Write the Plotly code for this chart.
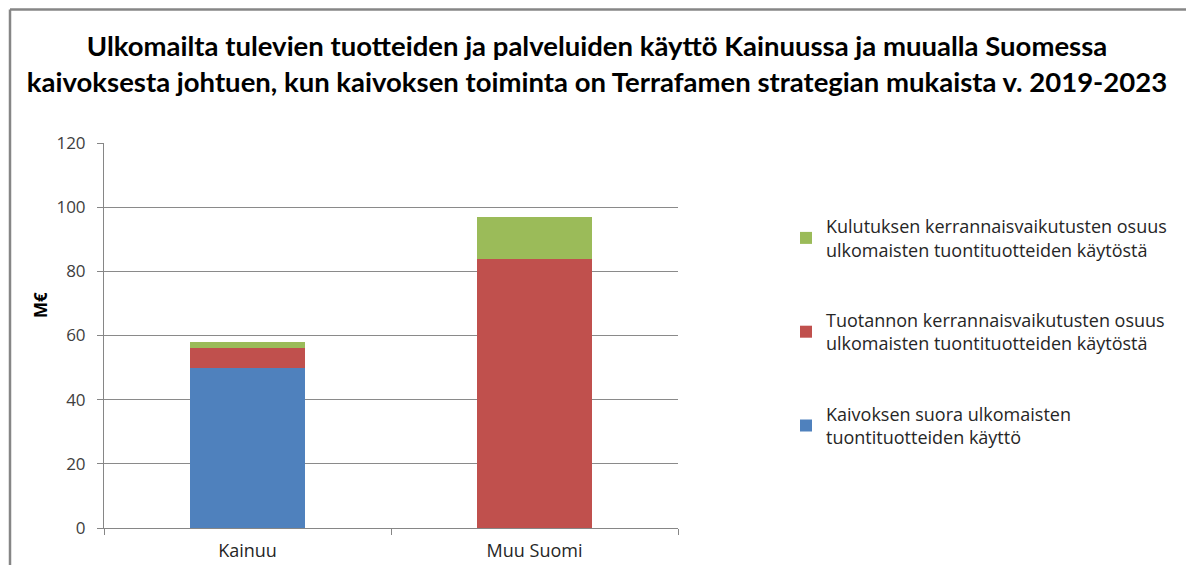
import plotly.graph_objects as go

categories = ["Kainuu", "Muu Suomi"]
series_names = [
    "Kaivoksen suora ulkomaisten<br>tuontituotteiden käyttö",
    "Tuotannon kerrannaisvaikutusten osuus<br>ulkomaisten tuontituotteiden käytöstä",
    "Kulutuksen kerrannaisvaikutusten osuus<br>ulkomaisten tuontituotteiden käytöstä",
]
direct = [50, 0]
production = [6, 84]
consumption = [2, 13]
colors = ["#4F81BD", "#C0504D", "#9BBB59"]
y_ticks = [0, 20, 40, 60, 80, 100, 120]

title = ("Ulkomailta tulevien tuotteiden ja palveluiden käyttö Kainuussa ja muualla Suomessa<br>"
         "kaivoksesta johtuen, kun kaivoksen toiminta on Terrafamen strategian mukaista v. 2019-2023")

# page has an 8px body margin; work in figure coordinates = page - 8
OFF = 8
W, H = 1194 - 2 * OFF, 573 - 2 * OFF
L, R, T, B = 104 - OFF, 678 - OFF, 143 - OFF, 528 - OFF
pw, ph = R - L, B - T

fig = go.Figure()
for i, (name, vals) in enumerate(zip(series_names, [direct, production, consumption])):
    fig.add_trace(go.Bar(
        x=categories, y=vals, name=name, marker_color=colors[i],
        marker_line_width=0, width=0.40, legendgroup=f"g{i}", legendrank=3 - i,
    ))

fig.update_layout(
    width=W, height=H,
    barmode="stack",
    plot_bgcolor="white", paper_bgcolor="white",
    margin=dict(l=L, r=W - R, t=T, b=H - B, autoexpand=False),
    font=dict(family="Open Sans", color="#404040", size=16),
    title=dict(text="<b>" + title + "</b>", x=(597 - OFF) / W, xanchor="center", xref="container",
               y=1 - (56 - OFF) / H, yanchor="middle", yref="container",
               font=dict(family="Lato", size=27.5, color="#000000")),
    showlegend=True,
    legend=dict(x=(786 - OFF - L) / pw, y=(B - (208 - OFF)) / ph, xanchor="left", yanchor="top",
                traceorder="grouped", tracegroupgap=44,
                font=dict(family="Open Sans", size=18, color="#262626"),
                itemwidth=30, bgcolor="rgba(0,0,0,0)"),
    xaxis=dict(showline=True, linecolor="#868686", linewidth=1,
               ticks="outside", tickson="boundaries", ticklen=6, tickcolor="#868686",
               ticklabelstandoff=6,
               tickfont=dict(size=18, color="#262626"), showgrid=False),
    yaxis=dict(range=[0, 120], tickvals=y_ticks, showline=True, linecolor="#868686", linewidth=1,
               ticks="outside", ticklen=6, tickcolor="#868686",
               ticklabelstandoff=8,
               gridcolor="#8a8a8a", gridwidth=1.2, zeroline=False,
               tickfont=dict(size=17, color="#404040")),
)

fig.add_annotation(text="<b>M€</b>", textangle=-90, xref="paper", yref="paper",
                   x=(40 - OFF - L) / pw, y=(B - (305 - OFF)) / ph, xanchor="center", yanchor="middle",
                   showarrow=False, font=dict(family="Open Sans", size=17, color="#000000"))

# outer chart border (only top and left edges are visible in the reference)
bx = (10 - OFF - L) / pw
by = (B - (9.5 - OFF)) / ph
fig.add_shape(type="line", xref="paper", yref="paper",
              x0=bx, x1=(W + 20 - L) / pw, y0=by, y1=by,
              line=dict(color="#868686", width=2.5), layer="below")
fig.add_shape(type="line", xref="paper", yref="paper",
              x0=bx, x1=bx, y0=by, y1=(B - H - 20) / ph,
              line=dict(color="#868686", width=2.5), layer="below")

fig.write_html("out.html")
